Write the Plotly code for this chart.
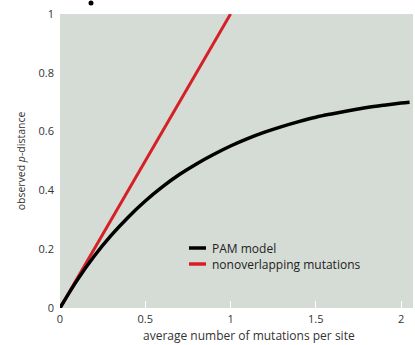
import plotly.graph_objects as go

# data
pam_x = [0, 0.1, 0.2, 0.3, 0.4, 0.5, 0.6, 0.7, 0.8, 0.9, 1.0, 1.1, 1.2, 1.3, 1.4, 1.5, 1.6, 1.7, 1.8, 1.9, 2.0, 2.05]
pam_y = [0, 0.094, 0.176, 0.247, 0.309, 0.364, 0.412, 0.454, 0.490, 0.522, 0.551, 0.576, 0.598, 0.617, 0.634,
         0.649, 0.661, 0.672, 0.682, 0.690, 0.697, 0.700]
lin_x = [0, 1.0]
lin_y = [0, 1.0]
x_ticks = [0, 0.5, 1, 1.5, 2]
x_labels = ["0", "0.5", "1", "1.5", "2"]
y_ticks = [0, 0.2, 0.4, 0.6, 0.8, 1]
y_labels = ["0", "0.2", "0.4", "0.6", "0.8", "1"]
legend_names = ["PAM model", "nonoverlapping mutations"]
x_title = "average number of mutations per site"
y_title = "observed <i>p</i>-distance"

FONT = "Open Sans, sans-serif"
RED = "#d42027"
TXT = "#333333"

fig = go.Figure()
fig.add_trace(go.Scatter(x=lin_x, y=lin_y, mode="lines", name=legend_names[1],
                         line=dict(color=RED, width=3), showlegend=False))
fig.add_trace(go.Scatter(x=pam_x, y=pam_y, mode="lines", name=legend_names[0],
                         line=dict(color="black", width=3.5, shape="spline"), showlegend=False))

fig.update_layout(
    width=415, height=345,
    margin=dict(l=60, r=2, t=14, b=37),
    paper_bgcolor="white",
    plot_bgcolor="#d5dcd5",
    font=dict(family=FONT, size=11, color=TXT),
    showlegend=False,
    xaxis=dict(range=[0, 2.07], tickvals=x_ticks, ticktext=x_labels, showgrid=False, zeroline=False,
               ticks="inside", ticklen=7, tickcolor="white", tickwidth=1, automargin=False,
               ticklabelstandoff=3,
               tickfont=dict(size=11, color=TXT), showline=False),
    yaxis=dict(range=[0, 1], tickvals=y_ticks, ticktext=y_labels, showgrid=False, zeroline=False,
               ticks="", ticklabelstandoff=5, automargin=False,
               tickfont=dict(size=11, color=TXT),
               title=dict(text=y_title, font=dict(size=10.5, color=TXT), standoff=10),
               showline=False),
)

pw, ph = 353.0, 294.0
# x-axis title (offset to the right as in the reference)
fig.add_annotation(xref="paper", yref="paper", x=(249 - 60) / pw, y=-(335 - 308) / ph, text=x_title,
                   showarrow=False, xanchor="center", yanchor="middle",
                   font=dict(size=12, color=TXT))

# manual legend (short line samples like the reference)
legend_colors = ["black", RED]
legend_rows = [248, 264]
for name, col, ry in zip(legend_names, legend_colors, legend_rows):
    yp = (308 - ry) / ph
    fig.add_shape(type="line", xref="paper", yref="paper",
                  x0=(189 - 60) / pw, x1=(206 - 60) / pw, y0=yp, y1=yp,
                  line=dict(color=col, width=3.5))
    fig.add_annotation(xref="paper", yref="paper", x=(210 - 60) / pw, y=yp, text=name,
                       showarrow=False, xanchor="left", yanchor="middle",
                       font=dict(size=12, color="#222222"))

fig.add_shape(type="circle", xref="paper", yref="paper",
              x0=(88.5 - 60) / pw, x1=(93.5 - 60) / pw, y0=1 + 8.5 / ph, y1=1 + 13.5 / ph,
              fillcolor="black", line=dict(width=0))

fig.write_html("out.html", config={"displayModeBar": False},
               post_script="document.body.style.margin='0';")
